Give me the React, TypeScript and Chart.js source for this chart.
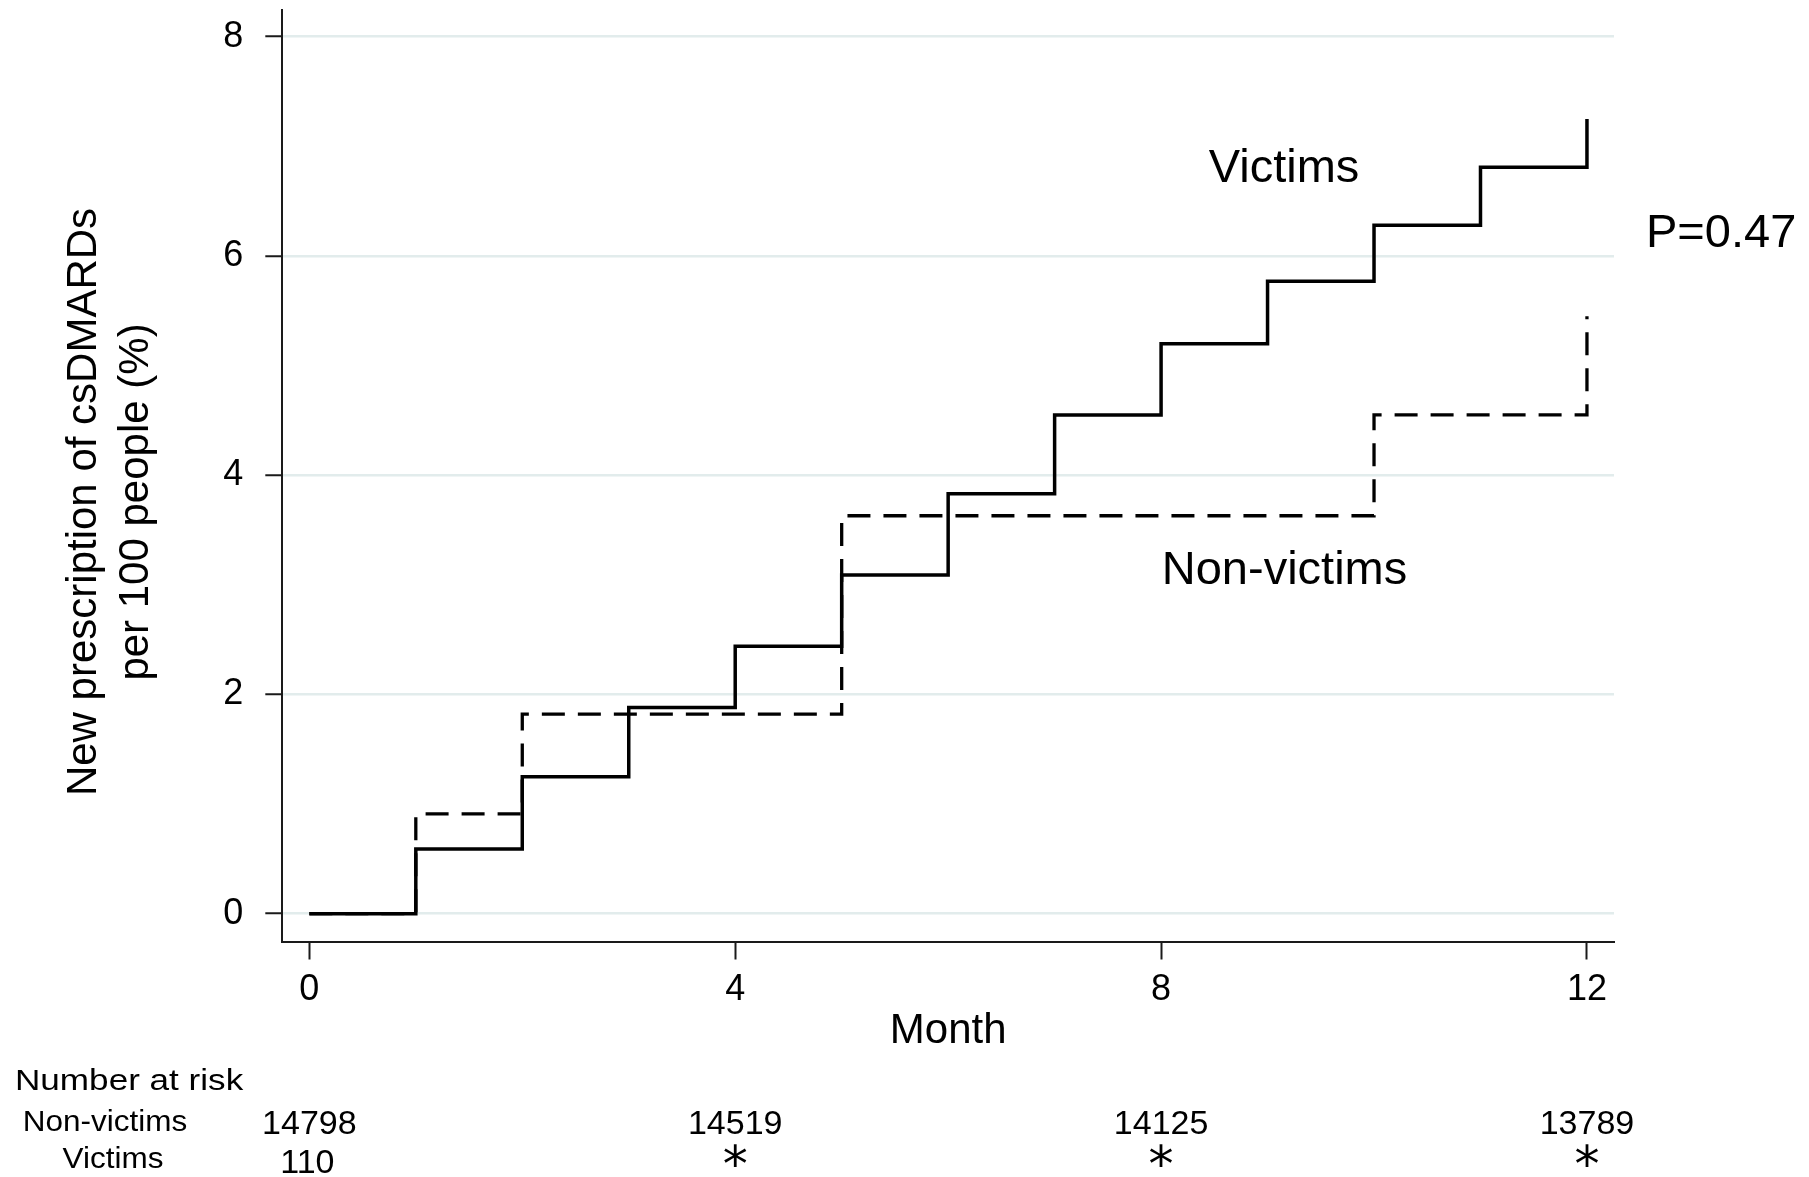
import React, { useEffect, useRef } from 'react';
import { Chart, registerables } from 'chart.js';

Chart.register(...registerables);

// ---- data ----
const months = [0, 1, 2, 3, 4, 5, 6, 7, 8, 9, 10, 11, 12];
const victims = [0, 0.59, 1.25, 1.88, 2.44, 3.09, 3.83, 4.55, 5.2, 5.77, 6.28, 6.81, 7.25];
const nonVictims = [0, 0.91, 1.82, 1.82, 1.82, 3.63, 3.63, 3.63, 3.63, 3.63, 4.55, 4.55, 5.45];
const xTicks = [0, 4, 8, 12];
const yTicks = [0, 2, 4, 6, 8];
const riskMonths = [0, 4, 8, 12];
const riskNonVictims = ['14798', '14519', '14125', '13789'];
const riskVictims = ['110', '*', '*', '*'];
const yTitleLines = ['New prescription of csDMARDs', 'per 100 people (%)'];
const xTitle = 'Month';
const victimsLabel = 'Victims';
const nonVictimsLabel = 'Non-victims';
const pValueLabel = 'P=0.47';
const riskHeader = 'Number at risk';

const SANS = "'Liberation Sans', Arial, Helvetica, sans-serif";
const AXIS = '#1a1a1a';

function drawText(
  ctx: CanvasRenderingContext2D,
  s: string,
  x: number,
  y: number,
  size: number,
  align: CanvasTextAlign,
  stretch = 1,
  family = SANS
) {
  ctx.save();
  ctx.translate(x, y);
  ctx.scale(stretch, 1);
  ctx.font = `${size}px ${family}`;
  ctx.textAlign = align;
  ctx.textBaseline = 'alphabetic';
  ctx.fillStyle = '#000';
  ctx.fillText(s, 0, 0);
  ctx.restore();
}

function drawGlyphCentered(
  ctx: CanvasRenderingContext2D,
  s: string,
  cx: number,
  cy: number,
  targetH: number,
  family: string
) {
  ctx.save();
  ctx.font = `100px ${family}`;
  const m0 = ctx.measureText(s);
  const h0 = m0.actualBoundingBoxAscent + m0.actualBoundingBoxDescent;
  const size = (targetH / h0) * 100;
  ctx.font = `${size}px ${family}`;
  const m = ctx.measureText(s);
  const left = m.actualBoundingBoxLeft;
  const right = m.actualBoundingBoxRight;
  const asc = m.actualBoundingBoxAscent;
  const desc = m.actualBoundingBoxDescent;
  ctx.textAlign = 'left';
  ctx.textBaseline = 'alphabetic';
  ctx.fillStyle = '#000';
  const x = cx - (right + left) / 2 + left;
  const y = cy + (asc - desc) / 2;
  ctx.fillText(s, x, y);
  ctx.restore();
}

const textPlugin = {
  id: 'kmText',
  afterDraw(chart: any) {
    const ctx: CanvasRenderingContext2D = chart.ctx;
    const xs = chart.scales.x;

    // y-axis title (two rotated lines)
    const titleCenterY = 502;
    const baselines = [96, 148];
    yTitleLines.forEach((line, i) => {
      ctx.save();
      ctx.translate(baselines[i], titleCenterY);
      ctx.rotate(-Math.PI / 2);
      ctx.font = `42px ${SANS}`;
      ctx.textAlign = 'center';
      ctx.textBaseline = 'alphabetic';
      ctx.fillStyle = '#000';
      ctx.fillText(line, 0, 0);
      ctx.restore();
    });

    // x-axis title
    drawText(ctx, xTitle, (chart.chartArea.left + chart.chartArea.right) / 2, 1043, 42, 'center');

    // curve labels
    drawText(ctx, victimsLabel, 1284, 182, 47, 'center');
    drawText(ctx, nonVictimsLabel, 1284.5, 584, 47, 'center');
    drawText(ctx, pValueLabel, 1646, 247, 47, 'left');

    // number at risk table
    drawText(ctx, riskHeader, 15, 1090, 30, 'left', 1.17);
    drawText(ctx, nonVictimsLabel, 105, 1130.5, 30, 'center', 1.05);
    drawText(ctx, victimsLabel, 113, 1168, 30, 'center', 1.05);
    riskMonths.forEach((m, i) => {
      const px = xs.getPixelForValue(m);
      drawText(ctx, riskNonVictims[i], px, 1133.5, 34, 'center');
      const v = riskVictims[i];
      if (v === '*') {
        drawGlyphCentered(ctx, v, px, 1155, 23, "'DejaVu Sans', sans-serif");
      } else {
        drawText(ctx, v, px - 2, 1172.5, 34, 'center');
      }
    });
  },
};

export default function App() {
  const canvasRef = useRef<HTMLCanvasElement | null>(null);

  useEffect(() => {
    document.body.style.margin = '0';
    const canvas = canvasRef.current;
    if (!canvas) return;

    const chart = new Chart(canvas, {
      type: 'line',
      data: {
        datasets: [
          {
            label: victimsLabel,
            data: months.map((m, i) => ({ x: m, y: victims[i] })),
            stepped: 'before',
            borderColor: '#000',
            borderWidth: 3.5,
            pointRadius: 0,
            fill: false,
          },
          {
            label: nonVictimsLabel,
            data: months.map((m, i) => ({ x: m, y: nonVictims[i] })),
            stepped: 'before',
            borderColor: '#000',
            borderWidth: 3.3,
            borderDash: [23, 13],
            pointRadius: 0,
            fill: false,
          },
        ],
      },
      options: {
        animation: false,
        responsive: false,
        devicePixelRatio: 1,
        layout: { padding: { top: 10, right: 195, bottom: 175.5, left: 0 } },
        plugins: {
          legend: { display: false },
          tooltip: { enabled: false },
        },
        scales: {
          x: {
            type: 'linear',
            min: -0.254,
            max: 12.254,
            afterBuildTicks: (scale: any) => {
              scale.ticks = xTicks.map((v) => ({ value: v }));
            },
            afterFit: (scale: any) => {
              scale.height = 60;
              scale.paddingLeft = 0;
              scale.paddingRight = 0;
            },
            grid: {
              drawOnChartArea: false,
              drawTicks: true,
              tickLength: 18,
              tickWidth: 2,
              tickColor: AXIS,
            },
            border: { display: true, color: AXIS, width: 2 },
            ticks: {
              padding: 9,
              color: '#000',
              font: { size: 36, family: SANS },
              maxRotation: 0,
              callback: (v: any) => String(v),
            },
          },
          y: {
            type: 'linear',
            min: -0.254,
            max: 8.244,
            afterBuildTicks: (scale: any) => {
              scale.ticks = yTicks.map((v) => ({ value: v }));
            },
            afterFit: (scale: any) => {
              scale.width = 282.3;
              scale.paddingTop = 0;
              scale.paddingBottom = 0;
            },
            grid: {
              color: '#e2ecec',
              lineWidth: 2.5,
              drawTicks: true,
              tickLength: 17,
              tickWidth: 2,
              tickColor: AXIS,
            },
            border: { display: true, color: AXIS, width: 2 },
            ticks: {
              padding: 22,
              color: '#000',
              font: { size: 36, family: SANS },
              callback: (v: any) => String(v),
            },
          },
        },
      },
      plugins: [textPlugin],
    });

    return () => {
      chart.destroy();
    };
  }, []);

  return (
    <div style={{ position: 'absolute', left: 0, top: 0, width: 1809, height: 1177, background: '#fff' }}>
      <canvas ref={canvasRef} width={1809} height={1177} style={{ display: 'block' }} />
    </div>
  );
}
